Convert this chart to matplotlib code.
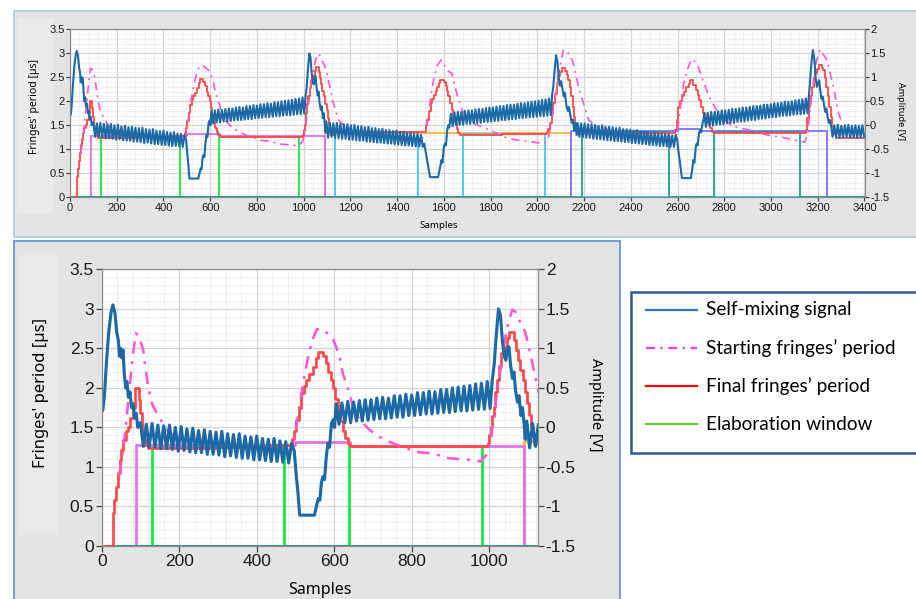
import matplotlib.pyplot as plt
from matplotlib.patches import Rectangle
from matplotlib.lines import Line2D
from matplotlib.ticker import MultipleLocator, FormatStrFormatter

plt.rcParams['font.family'] = ['Noto Sans', 'DejaVu Sans']
plt.rcParams['axes.unicode_minus'] = False

# ---------------- data (samples, fringes' period [us], amplitude [V]) ----------------
# self-mixing signal: smooth parts between the fringe bands (sample, V)
seg_a = [(0, 0.20), (3, 0.22), (7, 0.40), (12, 0.80), (18, 1.20), (24, 1.45), (29, 1.55),
         (34, 1.45), (39, 1.20), (43, 1.10), (46, 0.90), (49, 1.00), (52, 0.88), (55, 0.98),
         (58, 0.70), (62, 0.50), (65, 0.58), (69, 0.38), (73, 0.45), (77, 0.25), (81, 0.30),
         (85, 0.12), (89, 0.18), (93, 0.00), (96, 0.05)]
seg_b = [(497, -0.30), (502, -0.60), (506, -0.80), (511, -1.11), (549, -1.11), (555, -0.98),
         (559, -0.90), (563, -0.92), (567, -0.70), (571, -0.62), (575, -0.66), (580, -0.35),
         (584, -0.20), (588, -0.25), (593, 0.05), (598, 0.10), (601, 0.00)]
seg_c = [(1008, 0.60), (1013, 0.80), (1018, 1.15), (1024, 1.50), (1029, 1.42), (1034, 1.10),
         (1039, 0.90), (1043, 0.85), (1047, 1.00), (1051, 1.02), (1055, 0.80), (1060, 0.62),
         (1064, 0.70), (1068, 0.47), (1073, 0.32), (1077, 0.40), (1082, 0.15), (1086, 0.25),
         (1090, 0.05), (1093, -0.15)]
seg_d = [(1516, -0.38), (1522, -0.55), (1531, -0.80), (1541, -1.08), (1575, -1.08), (1582, -0.92),
         (1590, -0.72), (1594, -0.78), (1600, -0.45), (1605, -0.38), (1609, -0.42), (1614, -0.10),
         (1619, 0.00), (1623, -0.05), (1627, 0.11)]
seg_e = [(2063, 0.62), (2068, 0.80), (2074, 1.15), (2080, 1.46), (2086, 1.32), (2092, 0.98),
         (2097, 0.82), (2102, 0.92), (2107, 0.78), (2113, 0.60), (2118, 0.68), (2124, 0.42),
         (2130, 0.30), (2135, 0.38), (2141, 0.22), (2147, 0.05), (2152, 0.12), (2158, -0.10),
         (2163, 0.05), (2168, -0.20)]
seg_f = [(2598, -0.30), (2604, -0.55), (2611, -0.80), (2619, -1.10), (2657, -1.10), (2662, -0.95),
         (2668, -0.72), (2672, -0.78), (2678, -0.45), (2682, -0.38), (2686, -0.42), (2692, -0.15),
         (2697, -0.10), (2701, -0.15), (2707, 0.05), (2711, 0.11)]
seg_g = [(3162, 0.62), (3166, 0.85), (3172, 1.25), (3179, 1.57), (3185, 1.40), (3191, 1.00),
         (3196, 0.80), (3201, 0.88), (3206, 0.94), (3211, 0.72), (3216, 0.55), (3221, 0.60),
         (3227, 0.42), (3232, 0.28), (3237, 0.35), (3243, 0.15), (3248, 0.05), (3252, 0.11)]

# fringe bands: peak / valley values (V), one fringe every 15 samples
a1_hi = [0.06, 0.04, 0.05, 0.03, 0.02, 0.03, 0.00, 0.01, -0.02, -0.01, -0.04, -0.03, -0.05, -0.06,
         -0.05, -0.08, -0.09, -0.08, -0.11, -0.12, -0.11, -0.14, -0.15, -0.14, -0.17, -0.18, -0.20]
a1_lo = [-0.24, -0.25, -0.25, -0.27, -0.27, -0.28, -0.30, -0.29, -0.31, -0.32, -0.32, -0.34, -0.34,
         -0.35, -0.37, -0.36, -0.38, -0.39, -0.39, -0.41, -0.41, -0.42, -0.43, -0.43, -0.44, -0.45]
a2_hi = [0.30, 0.31, 0.33, 0.32, 0.34, 0.35, 0.35, 0.37, 0.38, 0.37, 0.40, 0.40, 0.42, 0.41,
         0.44, 0.44, 0.46, 0.45, 0.48, 0.48, 0.50, 0.51, 0.52, 0.53, 0.55, 0.56, 0.58]
a2_lo = [0.04, 0.06, 0.06, 0.08, 0.08, 0.09, 0.10, 0.11, 0.11, 0.12, 0.13, 0.13, 0.15, 0.15,
         0.16, 0.17, 0.17, 0.18, 0.19, 0.19, 0.20, 0.21, 0.21, 0.22, 0.23, 0.23, 0.24]
b1_hi = [0.08, 0.05, 0.04, 0.05, 0.03, 0.02, 0.02, 0.00, 0.01, -0.02, -0.02, -0.04, -0.03, -0.06,
         -0.06, -0.08, -0.07, -0.10, -0.10, -0.12, -0.11, -0.14, -0.14, -0.16, -0.15, -0.18, -0.18, -0.20]
b1_lo = [-0.26, -0.24, -0.26, -0.27, -0.28, -0.28, -0.30, -0.30, -0.31, -0.32, -0.32, -0.34, -0.34,
         -0.35, -0.36, -0.36, -0.37, -0.38, -0.38, -0.40, -0.40, -0.41, -0.42, -0.42, -0.43, -0.44,
         -0.44, -0.45]
b2_hi = [0.24, 0.27, 0.28, 0.28, 0.30, 0.31, 0.31, 0.33, 0.34, 0.34, 0.36, 0.37, 0.37, 0.39, 0.40,
         0.40, 0.42, 0.43, 0.43, 0.45, 0.46, 0.46, 0.48, 0.49, 0.50, 0.51, 0.53, 0.54, 0.56]
b2_lo = [-0.02, 0.00, 0.01, 0.01, 0.03, 0.03, 0.04, 0.05, 0.05, 0.07, 0.07, 0.08, 0.09, 0.09, 0.11,
         0.11, 0.12, 0.13, 0.13, 0.15, 0.15, 0.16, 0.17, 0.17, 0.18, 0.19, 0.19, 0.20, 0.21]
c1_hi = [0.05, 0.04, 0.04, 0.02, 0.02, 0.01, -0.01, 0.00, -0.03, -0.03, -0.04, -0.06, -0.05, -0.08,
         -0.08, -0.09, -0.11, -0.10, -0.13, -0.13, -0.14, -0.16, -0.15, -0.17, -0.18, -0.18, -0.19,
         -0.21, -0.20]
c1_lo = [-0.24, -0.25, -0.26, -0.26, -0.28, -0.28, -0.29, -0.30, -0.31, -0.31, -0.33, -0.33, -0.34,
         -0.35, -0.35, -0.37, -0.37, -0.38, -0.39, -0.39, -0.41, -0.41, -0.42, -0.43, -0.43, -0.44,
         -0.45, -0.45]
c2_hi = [0.25, 0.26, 0.28, 0.28, 0.29, 0.31, 0.31, 0.32, 0.34, 0.34, 0.35, 0.37, 0.37, 0.38, 0.40,
         0.40, 0.41, 0.43, 0.43, 0.44, 0.46, 0.46, 0.47, 0.49, 0.49, 0.50, 0.52, 0.53, 0.54, 0.56]
c2_lo = [-0.03, -0.01, -0.01, 0.01, 0.02, 0.02, 0.04, 0.05, 0.05, 0.07, 0.08, 0.08, 0.10, 0.11, 0.11,
         0.13, 0.14, 0.14, 0.16, 0.17, 0.17, 0.19, 0.20, 0.20, 0.21, 0.22, 0.23, 0.23, 0.24, 0.25]
c3_hi = [0.02, 0.00, 0.01, -0.01, 0.00, 0.01, -0.01, 0.00, -0.01, 0.00]
c3_lo = [-0.24, -0.25, -0.26, -0.25, -0.24, -0.26, -0.25, -0.26, -0.25, -0.24]
band_starts = [100, 605, 1097, 1630, 2172, 2714, 3256]

# starting fringes' period (us)
start_period = [
    (45, 0.90), (52, 1.10), (60, 1.42), (67, 1.75), (73, 2.05), (80, 2.40), (88, 2.69), (95, 2.66),
    (99, 2.61), (107, 2.48), (113, 2.25), (120, 2.02), (129, 1.81), (140, 1.70), (150, 1.62),
    (165, 1.48), (185, 1.40), (220, 1.34), (280, 1.30), (350, 1.26), (420, 1.21), (470, 1.17),
    (490, 1.22), (500, 1.45), (508, 1.70), (516, 1.95), (525, 2.20), (535, 2.45), (545, 2.62),
    (555, 2.74), (570, 2.74), (585, 2.68), (596, 2.63), (605, 2.52), (614, 2.40), (622, 2.19),
    (631, 2.05), (640, 1.93), (648, 1.76), (665, 1.60), (691, 1.47), (717, 1.38), (751, 1.30),
    (785, 1.24), (811, 1.19), (854, 1.17), (897, 1.11), (948, 1.09), (978, 1.07), (996, 1.17),
    (1005, 1.38), (1015, 1.75), (1025, 2.10), (1034, 2.40), (1042, 2.65), (1051, 2.86), (1060, 2.99),
    (1068, 2.96), (1077, 2.86), (1086, 2.78), (1094, 2.69), (1103, 2.50), (1112, 2.30), (1127, 1.96),
    (1149, 1.61), (1180, 1.46), (1230, 1.38), (1300, 1.33), (1380, 1.29), (1450, 1.25), (1505, 1.22),
    (1520, 1.30), (1530, 1.60), (1540, 1.95), (1550, 2.30), (1560, 2.55), (1572, 2.75), (1588, 2.86),
    (1600, 2.78), (1612, 2.65), (1634, 2.58), (1648, 2.30), (1662, 2.03), (1684, 1.75), (1727, 1.54),
    (1798, 1.40), (1855, 1.26), (1912, 1.19), (1969, 1.16), (2026, 1.12), (2040, 1.15), (2047, 1.23),
    (2062, 1.61), (2083, 2.30), (2098, 2.75), (2112, 3.08), (2133, 3.00), (2150, 2.85), (2161, 2.65),
    (2176, 2.30), (2197, 1.96), (2219, 1.61), (2254, 1.47), (2340, 1.37), (2450, 1.30), (2554, 1.26),
    (2590, 1.25), (2600, 1.40), (2610, 1.80), (2626, 2.37), (2645, 2.70), (2661, 2.88), (2683, 2.79),
    (2711, 2.40), (2740, 2.05), (2782, 1.68), (2839, 1.47), (2911, 1.40), (2982, 1.30), (3068, 1.23),
    (3125, 1.16), (3145, 1.15), (3155, 1.30), (3165, 1.70), (3178, 2.30), (3192, 2.80), (3210, 3.08),
    (3239, 2.86), (3267, 2.30), (3289, 1.75), (3300, 1.60), (3310, 1.55)]

# final fringes' period (us), value holds until the next sample listed
final_period = [
    (0, 0.00), (30, 0.42), (33, 0.58), (37, 0.75), (41, 0.92), (46, 1.09), (51, 1.22), (56, 1.34),
    (62, 1.45), (68, 1.51), (74, 1.62), (80, 1.75), (86, 2.00), (96, 1.85), (100, 1.68), (104, 1.47),
    (109, 1.34), (114, 1.28), (120, 1.24), (300, 1.25), (440, 1.28),
    (490, 1.35), (496, 1.45), (502, 1.59), (508, 1.75), (515, 1.93), (521, 2.02), (528, 2.10),
    (536, 2.18), (545, 2.27), (552, 2.38), (558, 2.46), (570, 2.40), (578, 2.31), (585, 2.20),
    (591, 2.10), (597, 2.00), (603, 1.86), (609, 1.72), (616, 1.58), (622, 1.45), (628, 1.36),
    (635, 1.29), (642, 1.26),
    (996, 1.30), (1000, 1.40), (1004, 1.51), (1008, 1.64), (1012, 1.76), (1016, 1.95), (1020, 2.10),
    (1025, 2.28), (1030, 2.44), (1038, 2.52), (1047, 2.63), (1052, 2.71), (1064, 2.61), (1070, 2.48),
    (1075, 2.35), (1080, 2.22), (1086, 2.10), (1092, 1.95), (1098, 1.81), (1103, 1.66), (1107, 1.51),
    (1112, 1.40), (1116, 1.30), (1128, 1.37),
    (1522, 1.50), (1529, 1.61), (1536, 1.80), (1543, 1.96), (1550, 2.05), (1557, 2.13), (1565, 2.22),
    (1572, 2.30), (1579, 2.38), (1585, 2.44), (1600, 2.40), (1607, 2.32), (1613, 2.22), (1619, 2.10),
    (1626, 1.96), (1633, 1.82), (1640, 1.68), (1647, 1.54), (1654, 1.42), (1661, 1.33), (1668, 1.30),
    (1850, 1.31), (2040, 1.36), (2047, 1.42), (2054, 1.54), (2061, 1.75), (2068, 1.96), (2075, 2.16),
    (2082, 2.37), (2090, 2.52), (2098, 2.62), (2105, 2.69), (2120, 2.63), (2127, 2.55), (2133, 2.44),
    (2139, 2.30), (2145, 2.10), (2151, 1.89), (2157, 1.68), (2163, 1.47), (2169, 1.38), (2175, 1.31),
    (2190, 1.33), (2400, 1.35), (2590, 1.40), (2597, 1.62), (2604, 1.89), (2611, 2.00), (2618, 2.10),
    (2628, 2.20), (2638, 2.30), (2647, 2.37), (2654, 2.44), (2668, 2.34), (2678, 2.24), (2686, 2.14),
    (2693, 2.03), (2701, 1.89), (2709, 1.75), (2718, 1.65), (2727, 1.54), (2737, 1.45), (2747, 1.37),
    (2760, 1.34), (2950, 1.33), (3150, 1.40), (3156, 1.65), (3161, 1.89), (3168, 2.10), (3176, 2.30),
    (3183, 2.44), (3190, 2.58), (3198, 2.68), (3206, 2.76), (3218, 2.70), (3224, 2.65), (3230, 2.48),
    (3236, 2.30), (3242, 2.10), (3249, 1.89), (3256, 1.68), (3263, 1.47), (3270, 1.32), (3277, 1.23),
    (3400, 1.23)]

# elaboration windows (step edges: sample, level in us)
win_first_x = [0, 89, 500, 640, 1091, 3400]
win_first_y = [0, 1.28, 1.31, 1.27, 0, 0]
win_green_x = [0, 131, 471, 639, 982, 3400]
win_green_y = [0, 1.25, 0, 1.26, 0, 0]
win_orange_x = [0, 1091, 2143, 3400]
win_orange_y = [0, 1.33, 0, 0]
win_cyan_x = [0, 1136, 1491, 1680, 2033, 3400]
win_cyan_y = [0, 1.37, 0, 1.31, 0, 0]
win_violet_x = [0, 2145, 2600, 2700, 3241, 3400]
win_violet_y = [0, 1.38, 1.43, 1.39, 0, 0]
win_teal_x = [0, 2192, 2563, 2754, 3122, 3400]
win_teal_y = [0, 1.36, 0, 1.36, 0, 0]

legend_labels = ['Self-mixing signal', 'Starting fringes\u2019 period',
                 'Final fringes\u2019 period', 'Elaboration window']


def zigzag(start, hi, lo):
    pts = []
    for i, h in enumerate(hi):
        pts.append((start + 15 * i, h))
        if i < len(lo):
            pts.append((start + 15 * i + 7.5, lo[i]))
    return pts


bands = [(a1_hi, a1_lo), (a2_hi, a2_lo), (b1_hi, b1_lo), (b2_hi, b2_lo),
         (c1_hi, c1_lo), (c2_hi, c2_lo), (c3_hi, c3_lo)]
segs = [seg_a, seg_b, seg_c, seg_d, seg_e, seg_f, seg_g]
signal = []
for s, st, (hi, lo) in zip(segs, band_starts, bands):
    signal += s + zigzag(st, hi, lo)
sig_x = [p[0] for p in signal]
sig_v = [p[1] for p in signal]
sp_x = [p[0] for p in start_period]
sp_y = [p[1] for p in start_period]
fp_x = [p[0] for p in final_period]
fp_y = [p[1] for p in final_period]

# drawing order: later windows cover earlier ones where they overlap
windows = [(win_green_x, win_green_y, '#12e83c'), (win_orange_x, win_orange_y, '#ffb43c'),
           (win_first_x, win_first_y, '#e36ee6'), (win_cyan_x, win_cyan_y, '#3ec8f2'),
           (win_violet_x, win_violet_y, '#7373ff'), (win_teal_x, win_teal_y, '#1f9e8c')]

# ---------------- figure ----------------
W, H = 916.0, 599.0
fig = plt.figure(figsize=(9.16, 5.99), dpi=100)


def box(x0, y0, x1, y1, **kw):
    r = Rectangle((x0 / W, 1 - y1 / H), (x1 - x0) / W, (y1 - y0) / H,
                  transform=fig.transFigure, **kw)
    fig.add_artist(r)


# panel backgrounds (LabVIEW style gray)
box(14, 11, 930, 237, facecolor='#e4e4e4', edgecolor='#a7c9e6', lw=1.2, zorder=-5)
box(17, 18, 53, 213, facecolor='#ebebeb', edgecolor='none', zorder=-4)
box(14, 241, 620, 610, facecolor='#e4e4e4', edgecolor='#5b8fcd', lw=1.2, zorder=-5)
box(19, 255, 58, 535, facecolor='#eaeaea', edgecolor='none', zorder=-4)

tick_fam = ['Liberation Sans Narrow', 'Liberation Sans']


def panel(rect, xmax, scale, fs):
    ax = fig.add_axes(rect)
    ax.set_facecolor('white')
    for x, y, c in windows:
        ax.plot(x, y, drawstyle='steps-post', color=c, lw=1.3 * scale)
    ax.plot(fp_x, fp_y, drawstyle='steps-post', color='#ff4848', lw=1.3 * scale)
    ax.plot(sp_x, sp_y, color='#ff55d2', lw=1.2 * scale, ls=(0, (5, 3, 1.2, 3)))
    ax.set_xlim(0, xmax)
    ax.set_ylim(0, 3.5)
    ax.xaxis.set_major_locator(MultipleLocator(200))
    ax.xaxis.set_minor_locator(MultipleLocator(40))
    ax.yaxis.set_major_locator(MultipleLocator(0.5))
    ax.yaxis.set_minor_locator(MultipleLocator(0.1))
    ax.yaxis.set_major_formatter(FormatStrFormatter('%g'))
    ax.grid(which='major', color='#d2d2d2', lw=0.9)
    ax.grid(which='minor', color='#e6e6e6', lw=0.6, ls=(0, (2, 1)))
    ax.set_axisbelow(True)

    av = ax.twinx()
    av.plot(sig_x, sig_v, color='#1b69a6', lw=1.5 * scale)
    av.set_ylim(-1.5, 2)
    av.yaxis.set_major_locator(MultipleLocator(0.5))
    av.yaxis.set_major_formatter(FormatStrFormatter('%g'))

    for a in (ax, av):
        for sp in a.spines.values():
            sp.set_color('#8a8a8a')
        a.tick_params(which='major', length=3 * scale, width=0.9, color='#444444', pad=1,
                      labelsize=fs, labelcolor='#1a1a1a', labelfontfamily=tick_fam)
        a.tick_params(which='minor', length=0)
    return ax, av


top, top_v = panel([70 / W, 1 - 197.3 / H, 794.5 / W, 168 / H], 3400, 1.0, 8)
bot, bot_v = panel([101.7 / W, 1 - 546 / H, 436.3 / W, 276.7 / H], 1126, 1.5, 12.5)

# axis titles
fig.text(35 / W, 1 - 107 / H, "Fringes' period [\u00b5s]", rotation=90, ha='center', va='center', fontsize=7.5)
fig.text(900 / W, 1 - 111 / H, 'Amplitude [V]', rotation=-90, ha='center', va='center', fontsize=6.5)
fig.text(439 / W, 1 - 225 / H, 'Samples', ha='center', va='center', fontsize=7)
fig.text(41 / W, 1 - 393 / H, "Fringes' period [\u00b5s]", rotation=90, ha='center', va='center', fontsize=12)
fig.text(596 / W, 1 - 405 / H, 'Amplitude [V]', rotation=-90, ha='center', va='center', fontsize=10.5)
fig.text(320 / W, 1 - 590 / H, 'Samples', ha='center', va='center', fontsize=11.5)

# legend box on the right
box(631, 292, 930, 453, facecolor='white', edgecolor='#2f5597', lw=1.8, zorder=4)
leg_styles = [('#2e75b6', '-'), ('#ff3ccc', (0, (4, 2.5, 1, 2.5))), ('#ff0000', '-'), ('#66cc33', '-')]
for i, (lab, (c, ls)) in enumerate(zip(legend_labels, leg_styles)):
    yy = 1 - (310 + 38.1 * i) / H
    fig.add_artist(Line2D([646 / W, 697 / W], [yy, yy], transform=fig.transFigure,
                          color=c, lw=1.6, ls=ls, zorder=5))
    fig.text(706 / W, yy, lab, ha='left', va='center', fontsize=13.7,
             family=['Lato', 'DejaVu Sans'], zorder=5)

fig.savefig('out.png', dpi=100)
